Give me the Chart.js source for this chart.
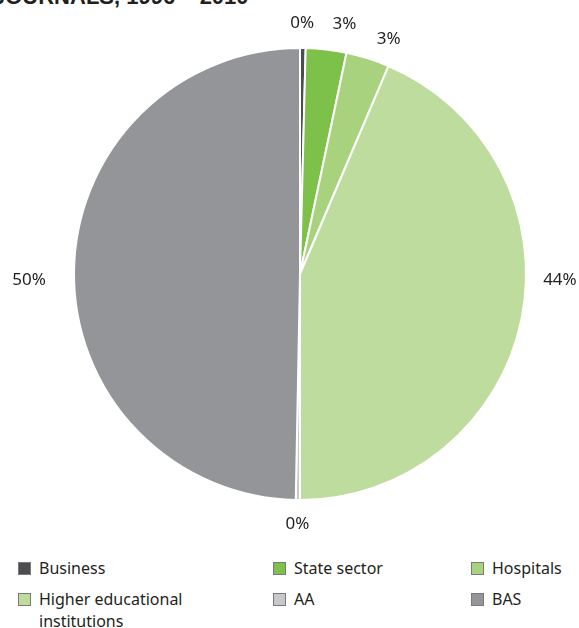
<!DOCTYPE html>
<html>
<head>
<meta charset="utf-8">
<script src="https://cdn.jsdelivr.net/npm/chart.js@4.4.0/dist/chart.umd.min.js"></script>
<style>
  html, body { margin: 0; padding: 0; background: #fff; }
  #wrap { position: relative; width: 579px; height: 628px; overflow: hidden; font-family: "Noto Sans", "Open Sans", sans-serif; }
  #titulo { position: absolute; left: -7px; top: -16px; font-size: 22px; font-weight: bold; color: #231f20; white-space: nowrap; font-family: "Liberation Sans", Arial, sans-serif; }
  #grafico { position: absolute; left: 0; top: 0; }
  .leyenda { position: absolute; font-size: 16px; color: #231f20; line-height: 22px; }
  .leyenda .caja { position: absolute; left: 0; top: 5px; width: 11px; height: 11px; border: 1px solid #7a7a7a; }
  .leyenda .txt { margin-left: 21px; display: block; }
</style>
</head>
<body>
<div id="wrap">
  <div id="titulo">JOURNALS, 1996 – 2010</div>
  <canvas id="grafico" width="579" height="548"></canvas>
  <div id="leyendaBox"></div>
</div>
<script>
// Categorías y porcentajes por sector
const sectores = ["Business", "State sector", "Hospitals", "Higher educational institutions", "AA", "BAS"];
const etiquetasLeyenda = ["Business", "State sector", "Hospitals", "Higher educational<br>institutions", "AA", "BAS"];
const porcentajes = [0.4, 2.9, 3.1, 43.6, 0.3, 49.7];
const colores = ["#4d4d4f", "#7dc14a", "#a9d27f", "#bddc9e", "#c8c8ca", "#939598"];

// Etiquetas de porcentaje fuera de cada sector; ángulo (grados desde arriba) y distancia al centro
const etiquetasExternas = {
  id: "etiquetasExternas",
  afterDatasetsDraw(chart, args, opts) {
    const ctx = chart.ctx;
    const meta = chart.getDatasetMeta(0);
    ctx.save();
    ctx.font = "17px 'Noto Sans', 'Open Sans', sans-serif";
    ctx.fillStyle = "#231f20";
    ctx.textAlign = "center";
    ctx.textBaseline = "middle";
    meta.data.forEach((arc, i) => {
      const p = arc.getProps(["x", "y"], true);
      const ang = (opts.angulos[i] - 90) * Math.PI / 180;
      const dist = opts.distancias[i];
      const texto = Math.round(porcentajes[i]) + "%";
      ctx.fillText(texto, p.x + Math.cos(ang) * dist, p.y + Math.sin(ang) * dist);
    });
    ctx.restore();
  }
};

new Chart(document.getElementById("grafico").getContext("2d"), {
  type: "pie",
  data: {
    labels: sectores,
    datasets: [{
      data: porcentajes,
      backgroundColor: colores,
      borderColor: "#ffffff",
      borderWidth: 2
    }]
  },
  options: {
    responsive: false,
    animation: false,
    layout: { padding: { top: 47, bottom: 47, left: 73, right: 52 } },
    plugins: {
      legend: { display: false },
      tooltip: { enabled: false },
      etiquetasExternas: {
        angulos: [0.5, 10.1, 20.7, 91.4, 180.6, 268.6],
        distancias: [251, 254, 251, 260, 250, 271]
      }
    }
  },
  plugins: [etiquetasExternas]
});

// Leyenda en tres columnas
function renderLeyenda() {
  const box = document.getElementById("leyendaBox");
  const cols = [18, 273, 471];
  const filas = [557, 588];
  sectores.forEach((s, i) => {
    const item = document.createElement("div");
    item.className = "leyenda";
    item.style.left = cols[i % 3] + "px";
    item.style.top = filas[Math.floor(i / 3)] + "px";
    item.innerHTML = `<span class="caja" style="background:${colores[i]}"></span><span class="txt">${etiquetasLeyenda[i]}</span>`;
    box.appendChild(item);
  });
}
renderLeyenda();
</script>
</body>
</html>
